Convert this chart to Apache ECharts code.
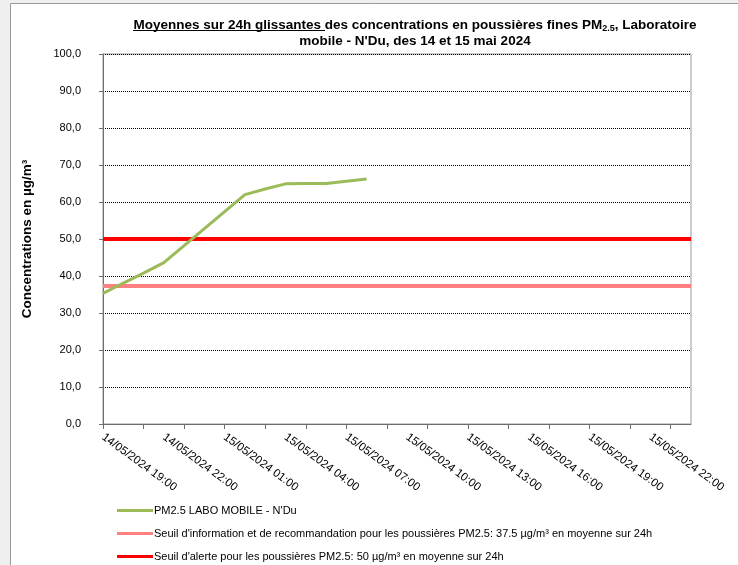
<!DOCTYPE html>
<html>
<head>
<meta charset="utf-8">
<script src="https://cdn.jsdelivr.net/npm/echarts@6/dist/echarts.min.js"></script>
<style>
  html, body { margin: 0; padding: 0; background: #efefef; }
  #chart { width: 738px; height: 565px; }
</style>
</head>
<body>
<div id="chart"></div>
<script>
// horaires (pas d'une heure)
const heures = [
  "14/05/2024 19:00", "14/05/2024 20:00", "14/05/2024 21:00", "14/05/2024 22:00",
  "14/05/2024 23:00", "15/05/2024 00:00", "15/05/2024 01:00", "15/05/2024 02:00",
  "15/05/2024 03:00", "15/05/2024 04:00", "15/05/2024 05:00", "15/05/2024 06:00",
  "15/05/2024 07:00", "15/05/2024 08:00", "15/05/2024 09:00", "15/05/2024 10:00",
  "15/05/2024 11:00", "15/05/2024 12:00", "15/05/2024 13:00", "15/05/2024 14:00",
  "15/05/2024 15:00", "15/05/2024 16:00", "15/05/2024 17:00", "15/05/2024 18:00",
  "15/05/2024 19:00", "15/05/2024 20:00", "15/05/2024 21:00", "15/05/2024 22:00",
  "15/05/2024 23:00", "16/05/2024 00:00"
];
// moyennes glissantes PM2.5 (µg/m3)
const pm25 = [35.3, 38.1, 40.8, 43.6, 48.2, 52.8, 57.4, 62.0, 63.5, 64.9, 65.0, 65.0, 65.6, 66.2,
  null, null, null, null, null, null, null, null, null, null, null, null, null, null, null, null];
const seuilInfo = 37.5;
const seuilAlerte = 50;

const nomPm = "PM2.5 LABO MOBILE - N'Du";
const nomInfo = "Seuil d'information et de recommandation pour les poussières PM2.5: 37.5 µg/m³ en moyenne sur 24h";
const nomAlerte = "Seuil d'alerte pour les poussières PM2.5: 50 µg/m³ en moyenne sur 24h";

const police = "'Liberation Sans', Arial, sans-serif";

let mychart = echarts.init(document.getElementById("chart"));

mychart.setOption({
  animation: false,
  backgroundColor: "#efefef",
  textStyle: { fontFamily: police },
  graphic: [
    {
      type: "rect",
      z: -100,
      shape: { x: 10.5, y: 3.5, width: 740, height: 580 },
      style: { fill: "#fff", stroke: "#9a9a9a", lineWidth: 1 }
    },
    {
      // soulignement de "Moyennes sur 24h glissantes"
      type: "line",
      z: 10,
      shape: { x1: 133, y1: 30.5, x2: 325, y2: 30.5 },
      style: { stroke: "#000", lineWidth: 1 }
    }
  ],
  title: {
    left: 415,
    top: 17,
    padding: 0,
    textAlign: "center",
    text: "{b|Moyennes sur 24h glissantes des concentrations en poussières fines PM}{sub|2.5}{b|, Laboratoire}\n{b|mobile - N'Du, des 14 et 15 mai 2024}",
    textStyle: {
      fontFamily: police,
      rich: {
        b: { fontSize: 13.5, fontWeight: "bold", color: "#000", lineHeight: 16, fontFamily: police },
        sub: { fontSize: 9, fontWeight: "bold", color: "#000", verticalAlign: "bottom", lineHeight: 12, fontFamily: police }
      }
    }
  },
  legend: [
    { data: [nomPm], left: 117, top: 505 },
    { data: [nomInfo], left: 117, top: 528 },
    { data: [nomAlerte], left: 117, top: 551 }
  ].map(function (l) {
    return Object.assign(l, {
      orient: "vertical",
      padding: 0,
      icon: "rect",
      itemWidth: 36,
      itemHeight: 3,
      itemGap: 0,
      selectedMode: false,
      textStyle: { fontSize: 11, color: "#000", fontFamily: police, padding: [0, 0, 0, -4] }
    });
  }),
  grid: {
    left: 103,
    right: 47,
    top: 54,
    bottom: 141,
    show: true,
    borderColor: "#9a9a9a",
    borderWidth: 1,
    backgroundColor: "transparent"
  },
  xAxis: {
    type: "category",
    data: heures,
    boundaryGap: false,
    axisLine: { lineStyle: { color: "#6e6e6e", width: 1 } },
    axisTick: { interval: 1, length: 5, lineStyle: { color: "#6e6e6e" } },
    axisLabel: {
      interval: 2,
      rotate: -36,
      margin: 12,
      fontSize: 11.5,
      color: "#000",
      fontFamily: police
    },
    splitLine: { show: false }
  },
  yAxis: {
    type: "value",
    min: 0,
    max: 100,
    interval: 10,
    name: "Concentrations en µg/m³",
    nameLocation: "middle",
    nameGap: 69,
    nameTextStyle: { fontSize: 13.5, fontWeight: "bold", color: "#000", fontFamily: police },
    axisLine: { show: true, lineStyle: { color: "#6e6e6e", width: 1 } },
    axisTick: { show: true, length: 4, lineStyle: { color: "#6e6e6e" } },
    axisLabel: {
      margin: 22,
      fontSize: 11,
      color: "#000",
      fontFamily: police,
      formatter: function (v) { return v.toFixed(1).replace(".", ","); }
    },
    splitLine: { lineStyle: { color: "#000", width: 1, type: [1, 1] } }
  },
  series: [
    {
      name: nomPm,
      type: "line",
      data: pm25,
      symbol: "none",
      z: 5,
      itemStyle: { color: "#9bbb59" },
      lineStyle: { color: "#9bbb59", width: 3 },
      emphasis: { disabled: true }
    },
    {
      name: nomInfo,
      type: "line",
      data: [],
      symbol: "none",
      itemStyle: { color: "#ff8080" },
      lineStyle: { color: "#ff8080", width: 4 },
      markLine: {
        silent: true,
        symbol: "none",
        label: { show: false },
        lineStyle: { color: "#ff8080", width: 4, type: "solid" },
        emphasis: { disabled: true },
        data: [{ yAxis: seuilInfo }]
      }
    },
    {
      name: nomAlerte,
      type: "line",
      data: [],
      symbol: "none",
      itemStyle: { color: "#ff0000" },
      lineStyle: { color: "#ff0000", width: 4 },
      markLine: {
        silent: true,
        symbol: "none",
        label: { show: false },
        lineStyle: { color: "#ff0000", width: 4, type: "solid" },
        emphasis: { disabled: true },
        data: [{ yAxis: seuilAlerte }]
      }
    }
  ]
});
</script>
</body>
</html>
